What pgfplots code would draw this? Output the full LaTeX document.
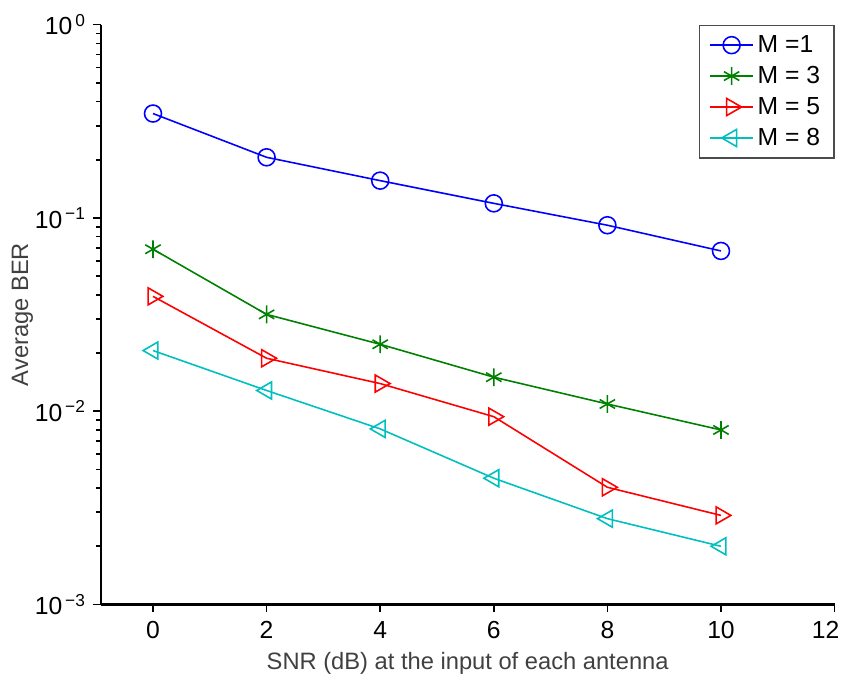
\documentclass[border=0pt]{standalone}
\usepackage{fontspec}
\setmainfont{Liberation Sans}
\usepackage{pgfplots}
\pgfplotsset{compat=1.18}
\definecolor{mblue}{rgb}{0,0,1}
\definecolor{mgreen}{rgb}{0,0.5,0}
\definecolor{mred}{rgb}{1,0,0}
\definecolor{mcyan}{rgb}{0,0.75,0.75}
\begin{document}
\begin{tikzpicture}
\begin{axis}[
  name=ax,
  scale only axis,
  width=371.5pt, height=293.5pt,
  ymode=log,
  xmin=-0.92, xmax=12,
  ymin=1e-3, ymax=1,
  axis x line*=bottom, axis y line*=left,
  axis line style={line width=1.1pt},
  xtick={0,2,4,6,8,10},
  extra x ticks={12},
  extra x tick style={xticklabel style={xshift=-4.5pt}},
  ytick={1e-3,1e-2,1e-1,1},
  yticklabels={10\textsuperscript{\,−3},10\textsuperscript{\,−2},10\textsuperscript{\,−1},10\textsuperscript{\,0}},
  tick align=outside,
  major tick length=4pt, minor tick length=2.5pt,
  tick style={black, line width=0.8pt},
  /pgf/number format/assume math mode=true,
  tick label style={font=\fontsize{12.5}{14}\selectfont},
  xticklabel style={yshift=-1pt},
  xlabel={SNR (dB) at the input of each antenna},
  ylabel={Average BER},
  label style={font=\fontsize{12}{14}\selectfont, text=black!75},
  xlabel style={yshift=8pt},
  ylabel style={yshift=-6pt},
  legend style={at={(1,1)}, anchor=north east, draw=black!70, line width=0.6pt,
    font=\fontsize{12.5}{14}\selectfont, inner xsep=5pt, inner ysep=3pt, row sep=1.5pt,
    legend cell align=left},
  legend image code/.code={
    \draw[mark repeat=2,mark phase=2] plot coordinates {(0cm,0cm) (0.38cm,0cm) (0.76cm,0cm)};},
  every axis plot/.append style={line width=0.8pt},
]
\addplot[mblue, mark=o, mark size=4.3pt] coordinates {
  (0,0.347) (2,0.206) (4,0.156) (6,0.119) (8,0.0917) (10,0.0675)};
\addlegendentry{M =1}
\addplot[mgreen, mark=asterisk, mark size=4.5pt] coordinates {
  (0,0.0689) (2,0.0317) (4,0.0222) (6,0.0150) (8,0.0109) (10,0.0080)};
\addlegendentry{M = 3}
\addplot[mred, mark=triangle, mark size=5pt, mark options={rotate=-90}] coordinates {
  (0,0.0393) (2,0.0188) (4,0.0139) (6,0.00937) (8,0.00404) (10,0.00289)};
\addlegendentry{M = 5}
\addplot[mcyan, mark=triangle, mark size=5pt, mark options={rotate=90}] coordinates {
  (0,0.0206) (2,0.0128) (4,0.0081) (6,0.0045) (8,0.00278) (10,0.0020)};
\addlegendentry{M = 8}
\end{axis}
\path ([yshift=12.5pt]ax.north);
\path ([xshift=-51pt]ax.west);
\end{tikzpicture}
\end{document}
